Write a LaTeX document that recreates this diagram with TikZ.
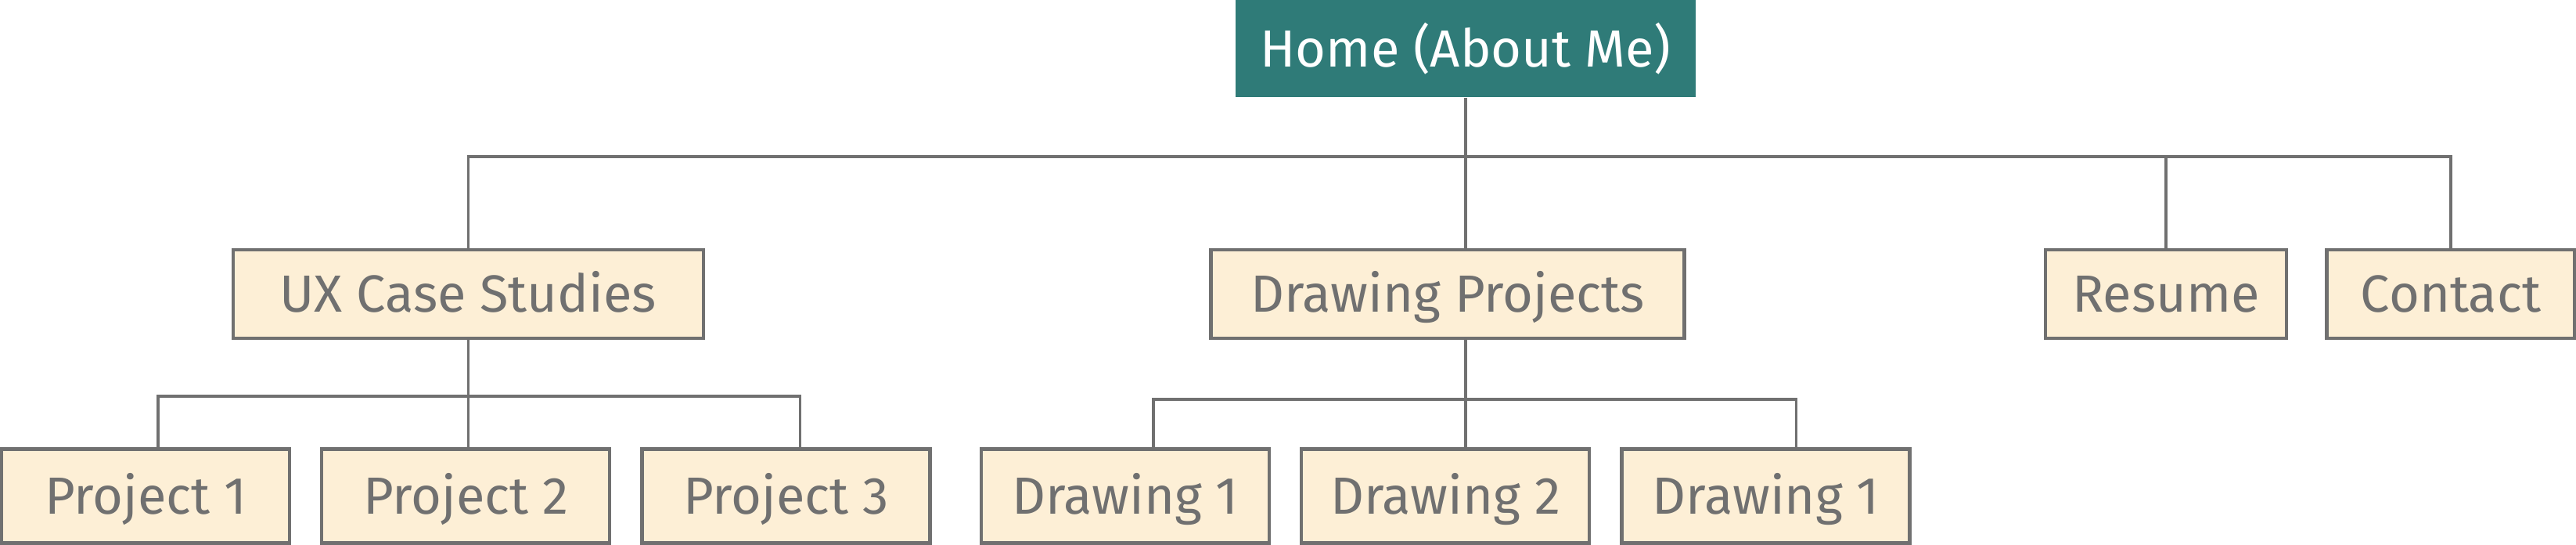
\documentclass[tikz,border=0pt]{standalone}
\usepackage{fontspec}
\setmainfont{Fira Sans}
\usetikzlibrary{positioning}

\definecolor{teal}{HTML}{2F7B78}
\definecolor{cream}{HTML}{FDEFD6}
\definecolor{linegray}{HTML}{707070}

\begin{document}
\begin{tikzpicture}[
  font=\fontsize{19}{22}\selectfont,
  every node/.style={text height=13.1pt, text depth=0pt},
  page/.style={draw=linegray, fill=cream, text=linegray, line width=1.2pt, inner sep=0pt, minimum height=1.13cm},
  sub/.style={page, minimum width=3.68cm, minimum height=1.2cm},
  link/.style={draw=linegray, line width=1pt}
]
\useasboundingbox (0,0) rectangle (32.92,-6.96);

\node[fill=teal, text=white, minimum width=5.88cm, minimum height=1.24cm, inner sep=0pt] (home) at (18.73,-0.62) {Home (About Me)};

\node[page, minimum width=6.01cm] (ux) at (5.985,-3.755) {UX Case Studies};
\node[page, minimum width=6.05cm] (dp) at (18.50,-3.755) {Drawing Projects};
\node[page, minimum width=3.08cm] (res) at (27.68,-3.755) {Resume};
\node[page, minimum width=3.17cm] (con) at (31.32,-3.755) {Contact};

\node[sub] (p1) at (1.86,-6.335) {Project 1};
\node[sub, right=0.37cm of p1] (p2) {Project 2};
\node[sub, right=0.37cm of p2] (p3) {Project 3};

\node[sub] (d1) at (14.38,-6.335) {Drawing 1};
\node[sub, right=0.37cm of d1] (d2) {Drawing 2};
\node[sub, right=0.37cm of d2] (d3) {Drawing 1};

% top level
\draw[link] (home.south) -- ++(0,-0.755) coordinate (hb);
\draw[link] (ux.north) |- (hb) -| (con.north);
\draw[link] (hb) -- (hb |- dp.north);
\draw[link] (res.north) -- (res.north |- hb);

% case studies
\draw[link] (ux.south) -- ++(0,-0.72) coordinate (uxb);
\draw[link] ([xshift=0.16cm]p1.north) |- (uxb) -| ([xshift=0.18cm]p3.north);
\draw[link] (uxb) -- (uxb |- p2.north);

% drawings
\draw[link] (hb |- dp.south) -- ++(0,-0.76) coordinate (dpb);
\draw[link] ([xshift=0.36cm]d1.north) |- (dpb) -| ([xshift=0.39cm]d3.north);
\draw[link] (dpb) -- (dpb |- d2.north);
\end{tikzpicture}
\end{document}
